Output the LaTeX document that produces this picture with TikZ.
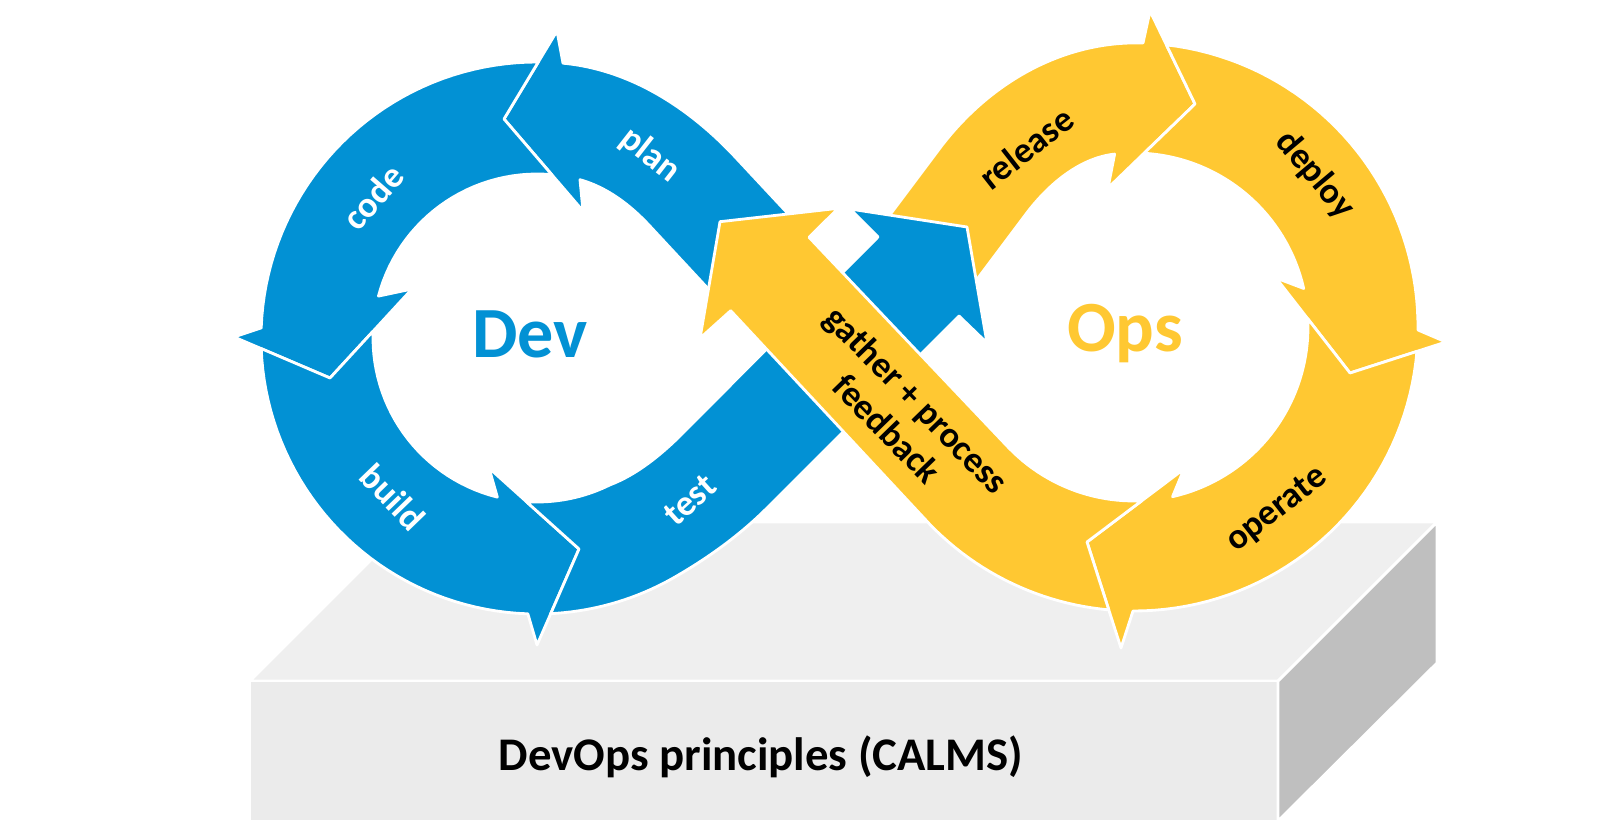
\documentclass[tikz,border=0pt]{standalone}
\usepackage{fontspec}
\newfontfamily\carl{Carlito}
\definecolor{dblue}{RGB}{2,145,212}
\definecolor{oyel}{RGB}{255,200,50}
\definecolor{ptop}{RGB}{239,239,239}
\definecolor{pfront}{RGB}{235,235,235}
\definecolor{pside}{RGB}{191,191,191}
\begin{document}
\begin{tikzpicture}[x=0.01cm,y=-0.01cm,
  band/.style={draw=white, line width=0.8pt, line join=round},
  face/.style={draw=white, line width=0.8pt, line join=round},
  lbl/.style={inner sep=0pt, font=\carl\bfseries\fontsize{10.3}{11.8}\selectfont},
  big/.style={inner sep=0pt, anchor=base, font=\carl\bfseries\fontsize{20.5}{23}\selectfont}]
\useasboundingbox (0,0) rectangle (1600,834);
% platform
\path[face, fill=ptop] (250,681) -- (409,522) -- (1437,522) -- (1278,681) -- cycle;
\path[face, fill=pfront] (250,681) rectangle (1278,821);
\path[face, fill=pside] (1278,681) -- (1437,522) -- (1437,663) -- (1278,821) -- cycle;
% plan
\path[band, fill=dblue] (557,31) -- (563.0,63.2)
  .. controls (631.1,69.6) and (690.6,108.7) .. (737,159)
  -- (806,233) -- (726,308) -- (650,226.2)
  .. controls (630.7,205.3) and (607.5,187.5) .. (580,179.7)
  -- (583,211) -- (504,119) -- cycle;
% release
\path[band, fill=oyel] (883,224) -- (940,148)
  .. controls (988.6,83.5) and (1062.3,40.5) .. (1143,43)
  -- (1150,11) -- (1195,104) -- (1108,188) -- (1114.6,154.1)
  .. controls (1078.8,158.1) and (1047.7,185.2) .. (1026,214)
  -- (969,290) -- cycle;
% code
\path[band, fill=dblue] (504,119) -- (551.8,174.7)
  -- plot[domain=275.2:194.8,samples=30] ({537+164*cos(\x)},{338+164*sin(\x)})
  -- (412,289) -- (330,378) -- (234,337) -- (261.2,327.9)
  -- plot[domain=182.1:270.3,samples=40] ({537+276*cos(\x)},{338+276*sin(\x)})
  -- (538.3,62.0) -- cycle;
% build
\path[band, fill=dblue] (330,378) -- (261.2,348.6)
  -- plot[domain=177.8:91.9,samples=40] ({537+276*cos(\x)},{338+276*sin(\x)})
  -- (537,645) -- (579,549) -- (489,468)
  -- plot[domain=104:182.4,samples=30] ({537+164*cos(\x)},{338+164*sin(\x)})
  -- (373.1,331.2) -- cycle;
% deploy
\path[band, fill=oyel] (1195,104) -- (1166.4,44.9)
  -- plot[domain=276.6:360.6,samples=40] ({1134+284*cos(\x)},{327+284*sin(\x)})
  -- (1446,342) -- (1350,373) -- (1276,278)
  -- plot[domain=347.2:273.3,samples=40] ({1134+174*cos(\x)},{327+174*sin(\x)})
  -- (1144,153.3) -- cycle;
% operate
\path[band, fill=oyel] (1350,373) -- (1417,351.4)
  -- plot[domain=4.9:90.2,samples=40] ({1134+284*cos(\x)},{327+284*sin(\x)})
  -- (1121,648) -- (1087,542) -- (1184,469)
  -- plot[domain=77.2:-2.7,samples=40] ({1134+174*cos(\x)},{327+174*sin(\x)})
  -- (1307.8,318.8) -- cycle;
% test
\path[band, fill=dblue] (579,549) -- (550.7,613.7)
  -- plot[domain=87.2:60,samples=20] ({537+276*cos(\x)},{338+276*sin(\x)})
  -- (675,577) .. controls (708.3,557.8) and (739.8,535.2) .. (767,508)
  -- (959,316) -- (987,343) -- (967,227) -- (850,209) -- (878,237) -- (683,433)
  .. controls (661.4,454.6) and (637.3,474.4) .. (610.2,484.8)
  -- plot[domain=63.5:93.7,samples=20] ({537+164*cos(\x)},{338+164*sin(\x)})
  -- (526.4,501.7) -- cycle;
% gather + process feedback
\path[band, fill=oyel] (1087,542) -- (1108.8,609.9)
  -- plot[domain=95.1:135.8,samples=25] ({1134+284*cos(\x)},{327+284*sin(\x)})
  -- (930.5,525.1) -- (730.7,310.7) -- (700,338.3) -- (720,221.7)
  -- (838.3,208.3) -- (809,237.3) -- (1009.3,448.4)
  -- plot[domain=135.8:87.5,samples=25] ({1134+174*cos(\x)},{327+174*sin(\x)})
  -- (1141.7,500.8) -- cycle;
% labels
\node[lbl, text=white, rotate=-38] (lplan) at (650,155) {plan};
\node[lbl, text=white, rotate=49] (lcode) at (373,197) {code};
\node[lbl, text=white, rotate=-46] (lbuild) at (393,497) {build};
\node[lbl, text=white, rotate=42] (ltest) at (690,500) {test};
\node[lbl, text=black, rotate=38] (lrelease) at (1026,148) {release};
\node[lbl, text=black, rotate=-50] (ldeploy) at (1315,175) {deploy};
\node[lbl, text=black, rotate=38] (loperate) at (1277,510) {operate};
\node[lbl, text=black, rotate=-45.8, align=center] (lfeed) at (902,414) {gather + process\\feedback};
\node[big, text=dblue] (dev) at (530,358) {Dev};
\node[big, text=oyel] (ops) at (1125,352) {Ops};
\node[inner sep=0pt, anchor=base, font=\carl\bfseries\fontsize{13.3}{16}\selectfont] (calms) at (761,771) {DevOps principles (CALMS)};
\end{tikzpicture}
\end{document}
